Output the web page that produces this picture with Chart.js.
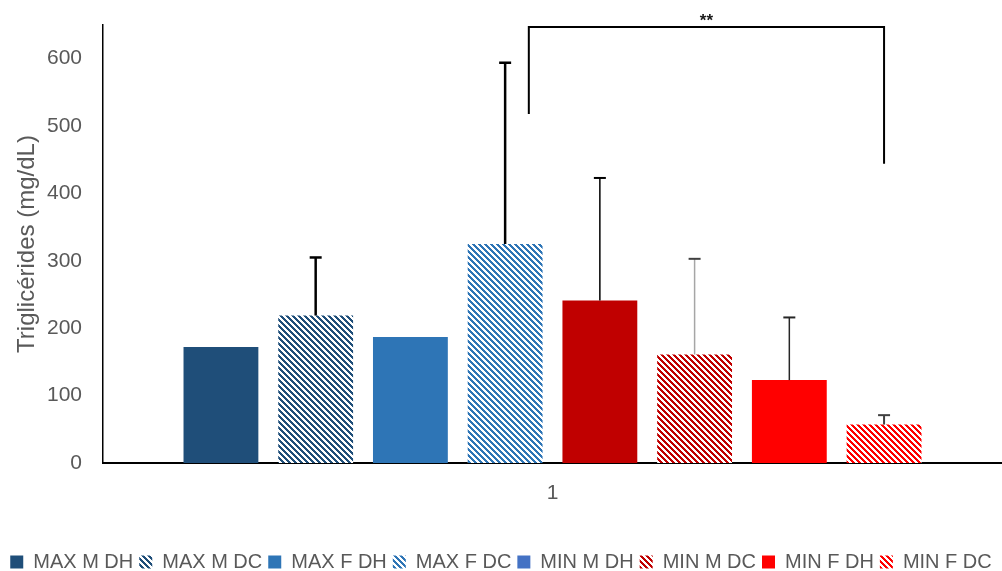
<!DOCTYPE html>
<html>
<head>
<meta charset="utf-8">
<script src="https://cdn.jsdelivr.net/npm/chart.js@4.4.1/dist/chart.umd.min.js"></script>
<style>
  html, body { margin: 0; padding: 0; background: #fff; overflow: hidden; }
  #wrap { position: relative; width: 1002px; height: 582px; }
</style>
</head>
<body>
<div id="wrap"><canvas id="myChart"></canvas></div>
<script>
// data
const categories = ['1'];
const seriesNames = ['MAX M DH', 'MAX M DC', 'MAX F DH', 'MAX F DC', 'MIN M DH', 'MIN M DC', 'MIN F DH', 'MIN F DC'];
const seriesValues = [172, 219, 187, 325, 241, 161, 123, 57];
const seriesErrors = [0, 86, 0, 269, 182, 142, 93, 14];
const yTicks = [0, 100, 200, 300, 400, 500, 600];
const yMax = 650;

// significance bracket: from between bars 4/5 to bar 8
const bracketSlots = [3.25, 7];
const bracketTop = 647;
const bracketDrops = [518, 444];
const bracketLabel = '**';

// styles
const seriesColors = ['#1F4E79', '#1F4E79', '#2E75B6', '#2E75B6', '#C00000', '#C00000', '#FF0000', '#FF0000'];
const seriesHatched = [false, true, false, true, false, true, false, true];
const legendColorFix = { 4: '#4472C4' };
const errColors = ['#000', '#000', '#000', '#000', '#000', '#A6A6A6', '#262626', '#404040'];
const errWidths = [0, 2.5, 0, 2.5, 1.5, 1.5, 1.5, 2];

const hatch = (color) => {
  const c = document.createElement('canvas');
  c.width = 6; c.height = 6;
  const g = c.getContext('2d');
  g.fillStyle = '#fff';
  g.fillRect(0, 0, 6, 6);
  g.fillStyle = color;
  for (let y = 0; y < 6; y++) {
    for (let x = 0; x < 6; x++) {
      if ((x - y + 12) % 6 < 3) g.fillRect(x, y, 1, 1);
    }
  }
  return g.createPattern(c, 'repeat');
};

const fills = seriesColors.map((c, i) => seriesHatched[i] ? hatch(c) : c);

const errorBars = {
  id: 'errorBars',
  afterDatasetsDraw(chart) {
    const { ctx, scales: { y } } = chart;
    seriesValues.forEach((v, i) => {
      const err = seriesErrors[i];
      if (!err) return;
      const bar = chart.getDatasetMeta(i).data[0];
      const yTop = y.getPixelForValue(v + err);
      ctx.save();
      ctx.strokeStyle = errColors[i];
      ctx.lineWidth = errWidths[i];
      ctx.beginPath();
      ctx.moveTo(bar.x, bar.y);
      ctx.lineTo(bar.x, yTop);
      ctx.stroke();
      ctx.strokeStyle = i === 5 ? '#404040' : errColors[i];
      ctx.lineWidth = Math.max(errWidths[i], 2);
      ctx.beginPath();
      ctx.moveTo(bar.x - 6, yTop);
      ctx.lineTo(bar.x + 6, yTop);
      ctx.stroke();
      ctx.restore();
    });
  }
};

const slotX = (chart, s) => {
  const a = Math.floor(s);
  const xa = chart.getDatasetMeta(a).data[0].x;
  if (s === a) return xa;
  const xb = chart.getDatasetMeta(a + 1).data[0].x;
  return xa + (s - a) * (xb - xa);
};

const bracket = {
  id: 'bracket',
  afterDatasetsDraw(chart) {
    const { ctx, scales: { y } } = chart;
    const x1 = slotX(chart, bracketSlots[0]);
    const x2 = slotX(chart, bracketSlots[1]);
    const yt = y.getPixelForValue(bracketTop);
    ctx.save();
    ctx.strokeStyle = '#000';
    ctx.lineWidth = 2;
    ctx.beginPath();
    ctx.moveTo(x1, y.getPixelForValue(bracketDrops[0]));
    ctx.lineTo(x1, yt);
    ctx.lineTo(x2, yt);
    ctx.lineTo(x2, y.getPixelForValue(bracketDrops[1]));
    ctx.stroke();
    ctx.fillStyle = '#1a1a1a';
    ctx.font = 'bold 17px "Liberation Sans"';
    ctx.textAlign = 'center';
    ctx.textBaseline = 'alphabetic';
    ctx.fillText(bracketLabel, (x1 + x2) / 2, yt - 1);
    ctx.restore();
  }
};

const ctx = document.getElementById('myChart').getContext('2d');
const chart = new Chart(ctx, {
  type: 'bar',
  data: {
    labels: categories,
    datasets: seriesNames.map((name, i) => ({
      label: name,
      data: [seriesValues[i]],
      backgroundColor: fills[i],
      borderWidth: 0,
      categoryPercentage: 0.843,
      barPercentage: 0.79
    }))
  },
  options: {
    responsive: true,
    maintainAspectRatio: false,
    animation: false,
    layout: { padding: { top: 25, right: 0, bottom: 0, left: 0 } },
    plugins: {
      tooltip: { enabled: false },
      legend: {
        position: 'bottom',
        labels: {
          boxWidth: 13,
          boxHeight: 13,
          padding: 6,
          color: '#595959',
          font: { family: '"Liberation Sans"', size: 20 },
          generateLabels: (chart) => {
            const items = Chart.defaults.plugins.legend.labels.generateLabels(chart);
            items.forEach((it, i) => {
              if (legendColorFix[i]) it.fillStyle = legendColorFix[i];
              it.lineWidth = 0;
              it.strokeStyle = 'rgba(0,0,0,0)';
            });
            return items;
          }
        }
      }
    },
    scales: {
      x: {
        grid: { display: false, drawTicks: false },
        border: { display: true, color: '#000', width: 2 },
        ticks: { color: '#595959', font: { family: '"Liberation Sans"', size: 21 }, padding: 18 },
        afterFit: (s) => { s.height = 83; }
      },
      y: {
        min: 0,
        max: yMax,
        afterBuildTicks: (s) => { s.ticks = yTicks.map(v => ({ value: v })); },
        grid: { display: false, drawTicks: false },
        border: { display: true, color: '#000', width: 1.5 },
        ticks: { color: '#595959', font: { family: '"Liberation Sans"', size: 21 }, padding: 21 },
        title: {
          display: true,
          text: 'Triglicérides (mg/dL)',
          color: '#595959',
          font: { family: '"Liberation Sans"', size: 24 },
          padding: { top: 13, bottom: 0 }
        },
        afterFit: (s) => { s.width = 103; s.paddingTop = 0; s.paddingBottom = 0; }
      }
    }
  },
  plugins: [errorBars, bracket]
});
</script>
</body>
</html>
